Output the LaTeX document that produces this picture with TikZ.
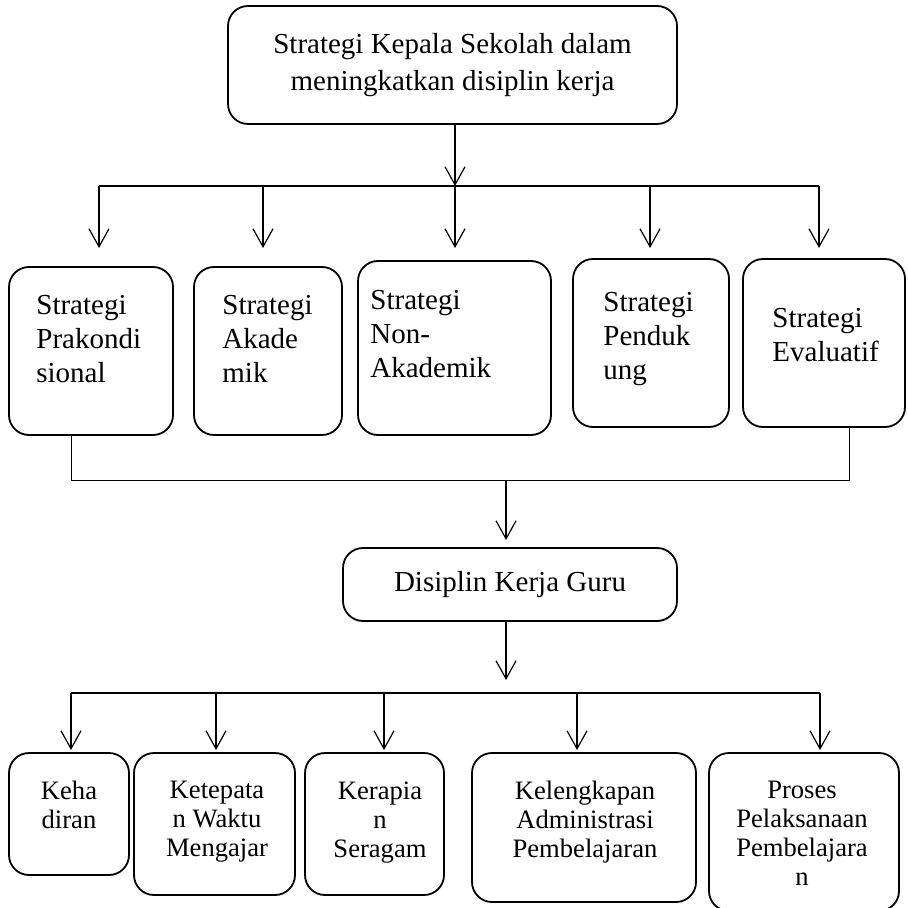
\documentclass[tikz,border=0pt]{standalone}
\usepackage{fontspec}
\setmainfont{Liberation Serif}
\usetikzlibrary{arrows.meta,calc}
\begin{document}
\begin{tikzpicture}[x=0.5pt,y=-0.5pt,
 box/.style={draw,rounded corners=10pt,line width=0.9pt,inner sep=0pt,outer sep=0pt},
 bigtxt/.style={inner sep=0pt,font=\fontsize{14.5pt}{17pt}\selectfont,align=left,anchor=north west},
 toptxt/.style={font=\fontsize{14.5pt}{18.5pt}\selectfont,align=center},
 smalltxt/.style={inner sep=0pt,font=\fontsize{13.3pt}{14.5pt}\selectfont,align=center,anchor=north},
 arr/.style={line width=0.6pt,-{Straight Barb[length=9pt,width=10pt]}},
 conn/.style={line width=0.6pt},
 thinconn/.style={line width=0.5pt}]
\useasboundingbox (0,0) rectangle (907,908);

% top box
\node[box,toptxt,minimum width=224.5pt,minimum height=59pt] (T) at (452.5,65)
  {Strategi Kepala Sekolah dalam\\meningkatkan disiplin kerja};

% row 2 boxes
\node[box,minimum width=82pt,minimum height=84pt] (S1) at (91,351) {};
\node[box,minimum width=74pt,minimum height=84pt] (S2) at (268,351) {};
\node[box,minimum width=96.5pt,minimum height=87pt] (S3) at (454.5,348) {};
\node[box,minimum width=78pt,minimum height=84pt] (S4) at (651,343) {};
\node[box,minimum width=81pt,minimum height=84pt] (S5) at (824,343) {};
\node[bigtxt] (tS1) at (36,295) {Strategi\\Prakondi\\sional};
\node[bigtxt] (tS2) at (222,295) {Strategi\\Akade\\mik};
\node[bigtxt] (tS3) at (370,290) {Strategi\\Non-\\Akademik};
\node[bigtxt] (tS4) at (603,292) {Strategi\\Penduk\\ung};
\node[bigtxt] (tS5) at (772,308) {Strategi\\Evaluatif};

% middle box
\node[box,toptxt,minimum width=167pt,minimum height=36.5pt] (D) at (510,584.5) {Disiplin Kerja Guru};

% bottom boxes
\node[box,minimum width=60pt,minimum height=61pt] (B1) at (69,814) {};
\node[box,minimum width=80.5pt,minimum height=71pt] (B2) at (214.5,824) {};
\node[box,minimum width=69.5pt,minimum height=71pt] (B3) at (374.5,824) {};
\node[box,minimum width=112pt,minimum height=74.5pt] (B4) at (584,827.5) {};
\node[box,minimum width=95pt,minimum height=79pt] (B5) at (804,832) {};
\node[smalltxt] (tB1) at (69,781) {Keha\\diran};
\node[smalltxt] (tB2) at (217,781) {Ketepata\\n Waktu\\Mengajar};
\node[smalltxt] (tB3) at (380,781) {Kerapia\\n\\Seragam};
\node[smalltxt] (tB4) at (585,781) {Kelengkapan\\Administrasi\\Pembelajaran};
\node[smalltxt] (tB5) at (802,781) {Proses\\Pelaksanaan\\Pembelajara\\n};

% top connectors
\coordinate (h0) at (455,186);
\coordinate (hl) at (99,186);
\coordinate (hr) at (819,186);
\draw[arr] (T.south -| h0) -- (h0);
\draw[conn] (hl) -- (hr);
\foreach \x/\n in {99/1,263/2,455/3,650/4,819/5}{
  \coordinate (a\n) at (\x,186);
  \coordinate (e\n) at (\x,248);
  \draw[arr] (a\n) -- (e\n);
}

% row 2 to D
\coordinate (j1) at (71,480);
\coordinate (j5) at (849,480);
\coordinate (j0) at (506,480);
\coordinate (jt) at (506,540);
\draw[thinconn] (S1.south -| j1) -- (j1) -- (j5) -- (S5.south -| j5);
\draw[arr] (j0) -- (jt);

% D to bottom
\coordinate (k0) at (506,680);
\draw[arr] (D.south -| k0) -- (k0);
\coordinate (gl) at (71,693);
\coordinate (gr) at (820,693);
\draw[conn] (gl) -- (gr);
\foreach \x/\n in {71/1,216/2,384/3,577/4,820/5}{
  \coordinate (g\n) at (\x,693);
  \coordinate (f\n) at (\x,750);
  \draw[arr] (g\n) -- (f\n);
}
\end{tikzpicture}
\end{document}
